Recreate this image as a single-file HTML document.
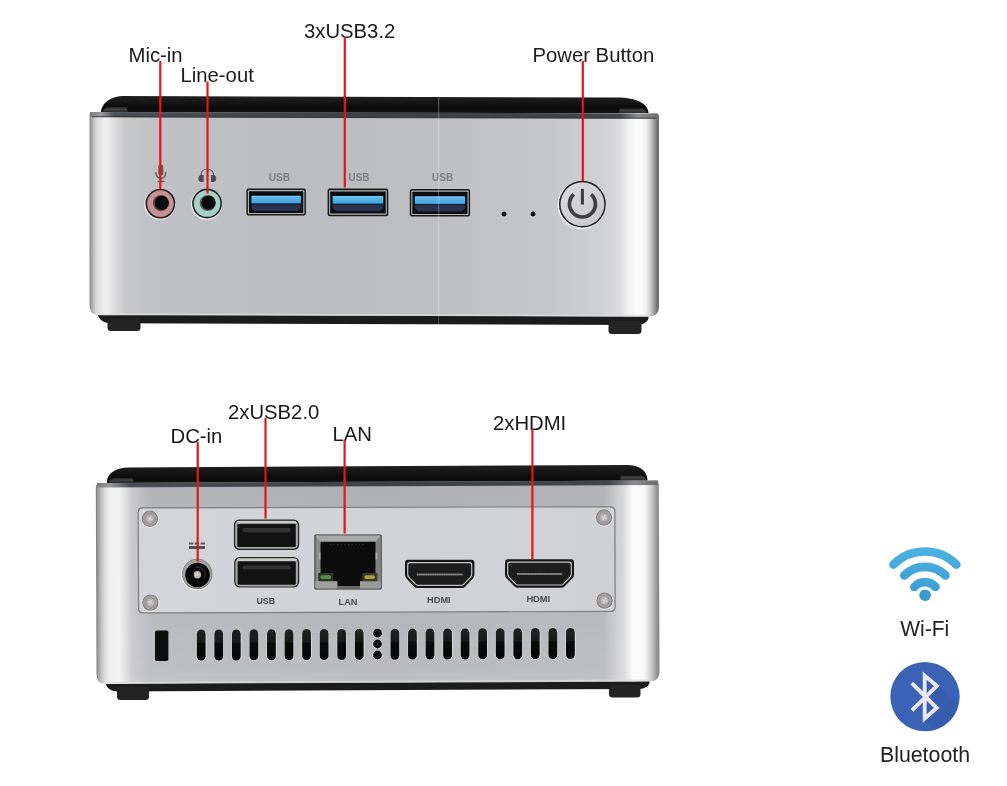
<!DOCTYPE html>
<html><head><meta charset="utf-8">
<style>
html,body{margin:0;padding:0;background:#fff;}
body{width:1007px;height:786px;overflow:hidden;position:relative;font-family:"Liberation Sans",sans-serif;}
svg{position:absolute;left:0;top:0;display:block;will-change:transform;}
</style></head>
<body>
<svg width="1007" height="786" viewBox="0 0 1007 786">
<defs>
  <linearGradient id="silverT" gradientUnits="userSpaceOnUse" x1="89" y1="0" x2="659" y2="0">
    <stop offset="0" stop-color="#7a7a7a"/>
    <stop offset="0.0035" stop-color="#a0a0a0"/>
    <stop offset="0.0123" stop-color="#d8d8d8"/>
    <stop offset="0.029" stop-color="#f2f2f2"/>
    <stop offset="0.042" stop-color="#e0e0e1"/>
    <stop offset="0.063" stop-color="#c9c9cb"/>
    <stop offset="0.107" stop-color="#c1c2c5"/>
    <stop offset="0.37" stop-color="#bcbdc0"/>
    <stop offset="0.63" stop-color="#bfc0c3"/>
    <stop offset="0.8088" stop-color="#c6c7c9"/>
    <stop offset="0.8965" stop-color="#cfd0d2"/>
    <stop offset="0.9298" stop-color="#dadadc"/>
    <stop offset="0.9491" stop-color="#f4f4f4"/>
    <stop offset="0.9596" stop-color="#fcfcfc"/>
    <stop offset="0.9719" stop-color="#fbfbfb"/>
    <stop offset="0.9789" stop-color="#ececec"/>
    <stop offset="0.9860" stop-color="#c6c6c6"/>
    <stop offset="0.9912" stop-color="#a0a0a0"/>
    <stop offset="0.9965" stop-color="#747474"/>
    <stop offset="1.0000" stop-color="#666666"/>
  </linearGradient>
  <linearGradient id="silverB" gradientUnits="userSpaceOnUse" x1="96" y1="0" x2="659.5" y2="0">
    <stop offset="0.0000" stop-color="#7a7a7a"/>
    <stop offset="0.0035" stop-color="#9a9a9a"/>
    <stop offset="0.0089" stop-color="#c0c0c0"/>
    <stop offset="0.0177" stop-color="#e2e2e2"/>
    <stop offset="0.0248" stop-color="#f0f0f0"/>
    <stop offset="0.0408" stop-color="#f3f3f3"/>
    <stop offset="0.0532" stop-color="#e2e2e4"/>
    <stop offset="0.0639" stop-color="#d0d0d2"/>
    <stop offset="0.0958" stop-color="#c5c6ca"/>
    <stop offset="0.5" stop-color="#c0c1c5"/>
    <stop offset="0.9" stop-color="#c4c5c9"/>
    <stop offset="0.937" stop-color="#dcdcde"/>
    <stop offset="0.952" stop-color="#fbfbfb"/>
    <stop offset="0.973" stop-color="#f8f8f8"/>
    <stop offset="0.985" stop-color="#cfcfcf"/>
    <stop offset="0.994" stop-color="#9c9c9c"/>
    <stop offset="1" stop-color="#7e7e7e"/>
  </linearGradient>
  <linearGradient id="shadeB" gradientUnits="userSpaceOnUse" x1="0" y1="483" x2="0" y2="684">
    <stop offset="0" stop-color="#000" stop-opacity="0.09"/>
    <stop offset="0.11" stop-color="#000" stop-opacity="0.08"/>
    <stop offset="0.65" stop-color="#000" stop-opacity="0.05"/>
    <stop offset="0.93" stop-color="#000" stop-opacity="0.03"/>
    <stop offset="1" stop-color="#000" stop-opacity="0.0"/>
  </linearGradient>
  <linearGradient id="bandT" gradientUnits="userSpaceOnUse" x1="89" y1="0" x2="659" y2="0">
    <stop offset="0" stop-color="#7a7a7a"/>
    <stop offset="0.02" stop-color="#9a9a9c"/>
    <stop offset="0.045" stop-color="#4a4e56"/>
    <stop offset="0.5" stop-color="#3b4049"/>
    <stop offset="0.93" stop-color="#41454d"/>
    <stop offset="0.965" stop-color="#8d8e91"/>
    <stop offset="1" stop-color="#6a6a6a"/>
  </linearGradient>
  <linearGradient id="bandB" gradientUnits="userSpaceOnUse" x1="96" y1="0" x2="659" y2="0">
    <stop offset="0" stop-color="#7a7a7a"/>
    <stop offset="0.025" stop-color="#9a9a9c"/>
    <stop offset="0.06" stop-color="#4a4e56"/>
    <stop offset="0.5" stop-color="#3b4049"/>
    <stop offset="0.91" stop-color="#41454d"/>
    <stop offset="0.955" stop-color="#8d8e91"/>
    <stop offset="1" stop-color="#6a6a6a"/>
  </linearGradient>
  <linearGradient id="rub" x1="0" y1="0" x2="0" y2="1">
    <stop offset="0" stop-color="#2a2a2a"/>
    <stop offset="0.5" stop-color="#484848"/>
    <stop offset="1" stop-color="#2c2c2c"/>
  </linearGradient>
  <linearGradient id="shadeMaskG" gradientUnits="userSpaceOnUse" x1="96" y1="0" x2="660" y2="0">
    <stop offset="0" stop-color="#000"/>
    <stop offset="0.04" stop-color="#000"/>
    <stop offset="0.1" stop-color="#fff"/>
    <stop offset="0.9" stop-color="#fff"/>
    <stop offset="0.935" stop-color="#000"/>
    <stop offset="1" stop-color="#000"/>
  </linearGradient>
  <mask id="shadeMask" maskUnits="userSpaceOnUse" x="0" y="0" width="1007" height="786">
    <rect x="0" y="0" width="1007" height="786" fill="url(#shadeMaskG)"/>
  </mask>
  <linearGradient id="vent" x1="0" y1="0" x2="0" y2="1">
    <stop offset="0" stop-color="#202020"/>
    <stop offset="0.4" stop-color="#1a1a1a"/>
    <stop offset="0.45" stop-color="#0a0a0a"/>
    <stop offset="1" stop-color="#070707"/>
  </linearGradient>
  <linearGradient id="lid" x1="0" y1="0" x2="0" y2="1">
    <stop offset="0" stop-color="#222"/>
    <stop offset="0.4" stop-color="#141414"/>
    <stop offset="0.7" stop-color="#0b0b0b"/>
    <stop offset="1" stop-color="#111"/>
  </linearGradient>
  <linearGradient id="usbBlue" x1="0" y1="0" x2="0" y2="1">
    <stop offset="0" stop-color="#86cff4"/>
    <stop offset="0.25" stop-color="#5ab6ea"/>
    <stop offset="0.8" stop-color="#48a8e2"/>
    <stop offset="1" stop-color="#3a92cc"/>
  </linearGradient>
  <linearGradient id="pwr" x1="0" y1="0" x2="1" y2="1">
    <stop offset="0" stop-color="#dcdcde"/>
    <stop offset="1" stop-color="#c8c8ca"/>
  </linearGradient>
  <linearGradient id="plate" x1="0" y1="0" x2="1" y2="0">
    <stop offset="0" stop-color="#d4d5d8"/>
    <stop offset="1" stop-color="#d0d1d4"/>
  </linearGradient>
</defs>

<path d="M101,113 C101,103 111,96 124,96 L618,97.6 C636,97.6 648.5,104 648.5,113 Z" fill="url(#lid)"/>
<path d="M98,314.5 L648.5,316.5 L648.5,318.5 C647,322.5 643,325 636,325 L110,323.2 C104,323.2 98,319 98,314.5 Z" fill="#1c1c1c"/>
<rect x="107.5" y="319" width="33" height="12" rx="3.5" fill="#232323"/>
<rect x="608.5" y="321" width="33" height="13" rx="3.5" fill="#232323"/>
<path d="M89.5,115 Q89.5,112 92.5,112 L656,113.5 Q659,113.5 659,116.5 L659,306.5 Q659,316.5 649,316.5 L99.5,315.2 Q89.5,315.2 89.5,305 Z" fill="url(#silverT)"/>
<path d="M103,112 C103,109 106,107 111,107 L126,107 L128,112 Z" fill="url(#rub)" opacity="0.9"/>
<path d="M620,108.5 L640,108.5 C644,108.5 646.5,110.5 646.5,113 L619,113 Z" fill="url(#rub)" opacity="0.9"/>
<path d="M90,112 L658,113.5 L658,118.5 L90,117 Z" fill="url(#bandT)"/>
<path d="M92,116.3 L656,117.8 L656,118.8 L92,117.3 Z" fill="#2a2c30" opacity="0.8"/>
<path d="M100,313.3 L648,314.8 L648,316.3 L100,314.8 Z" fill="#dcdcdc" opacity="0.8"/>
<circle cx="159.9" cy="204.2" r="15.6" fill="#ececec"/>
<circle cx="160.4" cy="203.6" r="14.9" fill="#231919"/>
<circle cx="160.4" cy="203.6" r="13.3" fill="#c29494"/>
<circle cx="161.00000000000003" cy="203.1" r="8.1" fill="#5a3434" opacity="0.85"/>
<circle cx="161.70000000000002" cy="202.9" r="7.1" fill="#0a0a0a"/>
<circle cx="206.6" cy="204.1" r="15.6" fill="#ececec"/>
<circle cx="207.1" cy="203.5" r="14.9" fill="#18231f"/>
<circle cx="207.1" cy="203.5" r="13.3" fill="#aacfc4"/>
<circle cx="207.70000000000002" cy="203.0" r="8.1" fill="#3a5550" opacity="0.85"/>
<circle cx="208.4" cy="202.8" r="7.1" fill="#0a0a0a"/>
<g fill="none" stroke="#5a5a5a" stroke-width="1.4"><path d="M155.9,172.3 Q155.9,178.2 160.8,178.2 Q165.7,178.2 165.7,172.3"/><line x1="160.8" y1="178.2" x2="160.8" y2="181.2"/><line x1="157.6" y1="181.5" x2="164.6" y2="181.5"/></g>
<rect x="158.3" y="164.4" width="5" height="11.2" rx="2.5" fill="#5a5a5a"/>
<path d="M200.9,177 L200.9,175.6 Q200.9,169.3 207.3,169.3 Q213.7,169.3 213.7,175.6 L213.7,177" fill="none" stroke="#606060" stroke-width="1.1"/>
<path d="M203.6,175 L203.6,182 L201.6,182 Q198.4,182 198.4,178.5 Q198.4,175 201.6,175 Z" fill="#4e4e4e"/>
<path d="M211,175 L211,182 L213,182 Q216.2,182 216.2,178.5 Q216.2,175 213,175 Z" fill="#4e4e4e"/>
<rect x="246.4" y="188.4" width="59.5" height="27.2" rx="2" fill="#1a1a1a"/>
<rect x="247.9" y="190.0" width="56.5" height="24.099999999999998" rx="1.2" fill="#b4b4b4"/>
<rect x="249.0" y="191.20000000000002" width="54.3" height="21.799999999999997" rx="0.6" fill="#0b0c10"/>
<path d="M251.4,203.8 L300.9,203.8 L300.9,207.9 L297.4,211.0 L254.9,211.0 L251.4,207.9 Z" fill="#28344f"/>
<rect x="251.4" y="195.70000000000002" width="49.5" height="8" rx="0.8" fill="url(#usbBlue)"/>
<rect x="251.4" y="203.5" width="49.5" height="1.1" fill="#121826"/>
<rect x="327.6" y="188.6" width="60.7" height="27.6" rx="2" fill="#1a1a1a"/>
<rect x="329.1" y="190.2" width="57.7" height="24.5" rx="1.2" fill="#b4b4b4"/>
<rect x="330.20000000000005" y="191.4" width="55.5" height="22.200000000000003" rx="0.6" fill="#0b0c10"/>
<path d="M332.6,204.0 L383.3,204.0 L383.3,208.1 L379.8,211.2 L336.1,211.2 L332.6,208.1 Z" fill="#28344f"/>
<rect x="332.6" y="195.9" width="50.7" height="8" rx="0.8" fill="url(#usbBlue)"/>
<rect x="332.6" y="203.7" width="50.7" height="1.1" fill="#121826"/>
<rect x="409.8" y="188.9" width="60.3" height="27.7" rx="2" fill="#1a1a1a"/>
<rect x="411.3" y="190.5" width="57.3" height="24.599999999999998" rx="1.2" fill="#b4b4b4"/>
<rect x="412.40000000000003" y="191.70000000000002" width="55.099999999999994" height="22.299999999999997" rx="0.6" fill="#0b0c10"/>
<path d="M414.8,204.3 L465.1,204.3 L465.1,208.4 L461.6,211.5 L418.3,211.5 L414.8,208.4 Z" fill="#28344f"/>
<rect x="414.8" y="196.20000000000002" width="50.3" height="8" rx="0.8" fill="url(#usbBlue)"/>
<rect x="414.8" y="204.0" width="50.3" height="1.1" fill="#121826"/>
<g font-family="Liberation Sans, sans-serif" font-weight="bold" font-size="10.2" fill="#7e7f82" text-anchor="middle"><text x="279.4" y="180.6" textLength="21.4" lengthAdjust="spacingAndGlyphs">USB</text><text x="359" y="180.8" textLength="20.8" lengthAdjust="spacingAndGlyphs">USB</text><text x="442.6" y="180.9" textLength="21" lengthAdjust="spacingAndGlyphs">USB</text></g>
<circle cx="504" cy="214.4" r="2.9" fill="#f4f4f4" opacity="0.8"/><circle cx="533" cy="214.4" r="2.9" fill="#f4f4f4" opacity="0.8"/>
<circle cx="504" cy="213.9" r="2.5" fill="#111"/><circle cx="533" cy="213.9" r="2.5" fill="#111"/>
<circle cx="581.6" cy="205" r="24.2" fill="#f2f2f2"/>
<circle cx="582.4" cy="204.2" r="23.4" fill="#1e1e1e"/>
<circle cx="582.4" cy="204.2" r="21.9" fill="url(#pwr)"/>
<path d="M573.75,194.34 A13,13 0 1 0 591.15,194.34" fill="none" stroke="#404040" stroke-width="3.7"/>
<line x1="582.4" y1="188.9" x2="582.4" y2="204.6" stroke="#404040" stroke-width="3.1"/>
<line x1="438.7" y1="97.6" x2="438.7" y2="112.5" stroke="#8a8a8a" stroke-width="0.9" opacity="0.7"/>
<line x1="438.7" y1="112.5" x2="438.7" y2="117.5" stroke="#aab" stroke-width="0.9" opacity="0.5"/>
<line x1="438.7" y1="117.5" x2="438.7" y2="316" stroke="#ffffff" stroke-width="0.9" opacity="0.3"/>
<line x1="438.7" y1="316" x2="438.7" y2="324" stroke="#777" stroke-width="0.9" opacity="0.6"/>
<path d="M107,484 L107,482 C107,473 116,467.5 129,467.5 L627,465 C640,465 647.5,471 647.5,480.5 L647.5,482 Z" fill="url(#lid)"/>
<path d="M106,683.5 L649.5,681 L649.5,683 C648,687 644,689 637,689 L118,691.5 C112,691.5 106,688 106,683.5 Z" fill="#1c1c1c"/>
<rect x="117" y="687" width="32" height="13" rx="3.5" fill="#232323"/>
<rect x="609" y="685" width="31.5" height="12.5" rx="3.5" fill="#232323"/>
<path d="M95.8,488 Q95.8,483 100.8,483 L654.5,480.5 Q658.8,480.5 658.8,484.8 L659.5,672 Q659.5,681.5 649.5,681.5 L106,684 Q96.5,684 96.5,674 Z" fill="url(#silverB)"/>
<path d="M95.8,488 Q95.8,483 100.8,483 L654.5,480.5 Q658.8,480.5 658.8,484.8 L659.5,672 Q659.5,681.5 649.5,681.5 L106,684 Q96.5,684 96.5,674 Z" fill="url(#shadeB)" mask="url(#shadeMask)"/>
<path d="M109,482.5 C109,479.5 112,478 117,478 L132,478 L134,482.5 Z" fill="url(#rub)" opacity="0.9"/>
<path d="M621,475.5 L640,475.5 C644,475.5 646,477.5 646,480 L620,480 Z" fill="url(#rub)" opacity="0.9"/>
<path d="M97,483 L658,480.5 L658,485 L97,487.5 Z" fill="url(#bandB)"/>
<path d="M106,682 L649,679.5 L649,681 L106,683.5 Z" fill="#dcdcdc" opacity="0.8"/>
<path d="M142.5,507.2 L610.5,506.2 Q615.5,506.2 615.5,511.2 L615.7,607 Q615.7,612 610.7,612 L143,613.6 Q138,613.6 138,608.6 L137.6,512.2 Q137.6,507.2 142.5,507.2 Z" fill="#7e7e7e"/>
<path d="M143,508.4 L610,507.4 Q614.3,507.4 614.3,511.7 L614.5,606.5 Q614.5,610.8 610.2,610.8 L143.5,612.3 Q139.2,612.3 139.2,608 L138.8,512.7 Q138.8,508.4 143,508.4 Z" fill="url(#plate)"/>
<circle cx="150.20000000000002" cy="519.1999999999999" r="8.8" fill="#f0f0f0"/><circle cx="149.9" cy="518.8" r="8.2" fill="#858080"/><circle cx="149.9" cy="518.8" r="7.2" fill="#a29d9d"/><circle cx="149.9" cy="518.8" r="3.8" fill="#bab5b5"/><path d="M147.5,517.5999999999999 L152.3,520.0 M148.70000000000002,521.1999999999999 L151.1,516.4" stroke="#dcd8d8" stroke-width="1.1"/>
<circle cx="150.70000000000002" cy="603.0" r="8.8" fill="#f0f0f0"/><circle cx="150.4" cy="602.6" r="8.2" fill="#858080"/><circle cx="150.4" cy="602.6" r="7.2" fill="#a29d9d"/><circle cx="150.4" cy="602.6" r="3.8" fill="#bab5b5"/><path d="M148.0,601.4 L152.8,603.8000000000001 M149.20000000000002,605.0 L151.6,600.2" stroke="#dcd8d8" stroke-width="1.1"/>
<circle cx="604.3" cy="517.9" r="8.8" fill="#f0f0f0"/><circle cx="604" cy="517.5" r="8.2" fill="#858080"/><circle cx="604" cy="517.5" r="7.2" fill="#a29d9d"/><circle cx="604" cy="517.5" r="3.8" fill="#bab5b5"/><path d="M601.6,516.3 L606.4,518.7 M602.8,519.9 L605.2,515.1" stroke="#dcd8d8" stroke-width="1.1"/>
<circle cx="604.8" cy="601.0" r="8.8" fill="#f0f0f0"/><circle cx="604.5" cy="600.6" r="8.2" fill="#858080"/><circle cx="604.5" cy="600.6" r="7.2" fill="#a29d9d"/><circle cx="604.5" cy="600.6" r="3.8" fill="#bab5b5"/><path d="M602.1,599.4 L606.9,601.8000000000001 M603.3,603.0 L605.7,598.2" stroke="#dcd8d8" stroke-width="1.1"/>
<line x1="189" y1="543.6" x2="205" y2="543.6" stroke="#5a5a5a" stroke-width="2" stroke-dasharray="4.3 1.5"/>
<line x1="189" y1="547.5" x2="205" y2="547.5" stroke="#4a4a4a" stroke-width="2.8"/>
<circle cx="196.8" cy="574.6" r="15.9" fill="#ececec"/>
<circle cx="197.3" cy="573.9" r="15.2" fill="#7c7c7c"/>
<circle cx="197.3" cy="573.9" r="14.4" fill="#a2a2a2"/>
<circle cx="197.5" cy="575" r="12.3" fill="#060606"/>
<path d="M196,567.5 A7.5,7.5 0 0 1 204.5,578" fill="none" stroke="#2c2c2c" stroke-width="1.3"/>
<circle cx="197.4" cy="574.8" r="3.7" fill="#bcb7af"/>
<circle cx="197" cy="574.3" r="1.8" fill="#d8d4cc"/>
<rect x="233.9" y="519.5" width="65.3" height="30.5" rx="5.5" fill="#262626"/>
<rect x="235.20000000000002" y="520.7" width="62.699999999999996" height="28.1" rx="4.5" fill="#a9a9a9"/>
<rect x="236.9" y="521.1" width="59.3" height="2.6" rx="1" fill="#c9c9c9"/>
<rect x="237.3" y="523.8" width="58.5" height="23.3" rx="1.2" fill="#121212"/>
<rect x="242.4" y="528.1" width="48.3" height="4.2" rx="2" fill="#333"/>
<rect x="242.4" y="531.9" width="48.3" height="1" fill="#1c1c1c"/>
<rect x="234.2" y="557.0" width="65.0" height="30.6" rx="5.5" fill="#262626"/>
<rect x="235.5" y="558.2" width="62.4" height="28.200000000000003" rx="4.5" fill="#a9a9a9"/>
<rect x="237.2" y="558.6" width="59.0" height="2.6" rx="1" fill="#c9c9c9"/>
<rect x="237.6" y="561.3" width="58.2" height="23.400000000000002" rx="1.2" fill="#121212"/>
<rect x="242.7" y="565.6" width="48.0" height="4.2" rx="2" fill="#333"/>
<rect x="242.7" y="569.4" width="48.0" height="1" fill="#1c1c1c"/>
<rect x="314.4" y="534.5" width="67.3" height="55" rx="1.5" fill="#2e2e2e"/>
<rect x="315.4" y="535.5" width="65.3" height="53" rx="1" fill="#8c8c8c"/>
<path d="M315.4,535.5 L380.7,535.5 L375.7,541.7 L320.1,541.7 Z" fill="#a9a9a9"/>
<path d="M380.7,535.5 L375.7,541.7 L375.7,582 L380.7,588.5 Z" fill="#818181"/>
<path d="M320.5,541.7 L375.5,541.7 L375.5,581.5 L360,581.5 L360,586.3 L337.3,586.3 L337.3,581.5 L320.5,581.5 Z" fill="#0c0c0c"/>
<path d="M330,544.6 L366,544.6" stroke="#3a3a3a" stroke-width="1" stroke-dasharray="1 2.6"/>
<rect x="318.8" y="552.5" width="1.6" height="7" fill="#b0b0b0"/><rect x="375.6" y="552.5" width="1.6" height="7" fill="#b0b0b0"/>
<rect x="318.3" y="573" width="15" height="8.2" fill="#2a3528"/><rect x="320.5" y="575.3" width="10.5" height="3.8" rx="1.9" fill="#58904a"/>
<rect x="362.4" y="573" width="15" height="8.2" fill="#3a3826"/><rect x="364.5" y="575.3" width="10.5" height="3.8" rx="1.9" fill="#aaa03a"/>
<rect x="315.4" y="581.3" width="21.9" height="7.2" fill="#a0a0a0"/><rect x="360" y="581.3" width="20.7" height="7.2" fill="#9a9a9a"/>
<rect x="337.3" y="586.3" width="22.7" height="2.2" fill="#6a6a6a"/>
<path d="M408.00,559.80 L471.40,559.80 Q474.40,559.80 474.40,562.80 L474.40,574.80 Q474.40,577.00 472.88,578.59 L465.42,586.41 Q463.90,588.00 461.70,588.00 L417.70,588.00 Q415.50,588.00 413.98,586.41 L406.52,578.59 Q405.00,577.00 405.00,574.80 L405.00,562.80 Q405.00,559.80 408.00,559.80 Z" fill="#161616"/>
<path d="M409.50,562.10 L469.90,562.10 Q472.30,562.10 472.30,564.50 L472.30,574.40 Q472.30,576.20 471.06,577.51 L464.34,584.59 Q463.10,585.90 461.30,585.90 L418.10,585.90 Q416.30,585.90 415.06,584.59 L408.34,577.51 Q407.10,576.20 407.10,574.40 L407.10,564.50 Q407.10,562.10 409.50,562.10 Z" fill="#c4c4c4"/>
<path d="M409.90,563.30 L469.50,563.30 Q471.10,563.30 471.10,564.90 L471.10,574.30 Q471.10,575.70 470.14,576.72 L463.56,583.68 Q462.60,584.70 461.20,584.70 L418.20,584.70 Q416.80,584.70 415.84,583.68 L409.26,576.72 Q408.30,575.70 408.30,574.30 L408.30,564.90 Q408.30,563.30 409.90,563.30 Z" fill="#1d1d1d"/>
<rect x="416.5" y="573.4" width="46.400000000000006" height="2" rx="1" fill="#6a6a6a"/>
<line x1="417.0" y1="574.4" x2="462.4" y2="574.4" stroke="#9a9a9a" stroke-width="1" stroke-dasharray="1.1 0.7"/>
<path d="M508.00,559.30 L571.00,559.30 Q574.00,559.30 574.00,562.30 L574.00,574.50 Q574.00,576.70 572.48,578.29 L565.02,586.11 Q563.50,587.70 561.30,587.70 L517.70,587.70 Q515.50,587.70 513.98,586.11 L506.52,578.29 Q505.00,576.70 505.00,574.50 L505.00,562.30 Q505.00,559.30 508.00,559.30 Z" fill="#161616"/>
<path d="M509.50,561.60 L569.50,561.60 Q571.90,561.60 571.90,564.00 L571.90,574.10 Q571.90,575.90 570.66,577.21 L563.94,584.29 Q562.70,585.60 560.90,585.60 L518.10,585.60 Q516.30,585.60 515.06,584.29 L508.34,577.21 Q507.10,575.90 507.10,574.10 L507.10,564.00 Q507.10,561.60 509.50,561.60 Z" fill="#c4c4c4"/>
<path d="M509.90,562.80 L569.10,562.80 Q570.70,562.80 570.70,564.40 L570.70,574.00 Q570.70,575.40 569.74,576.42 L563.16,583.38 Q562.20,584.40 560.80,584.40 L518.20,584.40 Q516.80,584.40 515.84,583.38 L509.26,576.42 Q508.30,575.40 508.30,574.00 L508.30,564.40 Q508.30,562.80 509.90,562.80 Z" fill="#1d1d1d"/>
<rect x="516.5" y="572.9" width="46.0" height="2" rx="1" fill="#6a6a6a"/>
<line x1="517.0" y1="573.9" x2="562.0" y2="573.9" stroke="#9a9a9a" stroke-width="1" stroke-dasharray="1.1 0.7"/>
<g font-family="Liberation Sans, sans-serif" font-weight="bold" font-size="9.4" fill="#4c4c4c" text-anchor="middle"><text x="265.7" y="603.6" textLength="18.6" lengthAdjust="spacingAndGlyphs">USB</text><text x="348" y="604.9" textLength="18.8" lengthAdjust="spacingAndGlyphs">LAN</text><text x="438.9" y="602.6" textLength="23.6" lengthAdjust="spacingAndGlyphs">HDMI</text><text x="538.3" y="601.8" textLength="23.8" lengthAdjust="spacingAndGlyphs">HDMI</text></g>
<rect x="155" y="630.5" width="13.4" height="30.5" rx="1.8" fill="#0e0e0e"/>
<rect x="196.30" y="629.57" width="10" height="31.6" rx="5" fill="#f4f4f4" opacity="0.75"/>
<rect x="196.80" y="629.57" width="8.8" height="31" rx="4.3" fill="url(#vent)"/>
<rect x="213.86" y="629.49" width="10" height="31.6" rx="5" fill="#f4f4f4" opacity="0.75"/>
<rect x="214.36" y="629.49" width="8.8" height="31" rx="4.3" fill="url(#vent)"/>
<rect x="231.42" y="629.41" width="10" height="31.6" rx="5" fill="#f4f4f4" opacity="0.75"/>
<rect x="231.92" y="629.41" width="8.8" height="31" rx="4.3" fill="url(#vent)"/>
<rect x="248.98" y="629.33" width="10" height="31.6" rx="5" fill="#f4f4f4" opacity="0.75"/>
<rect x="249.48" y="629.33" width="8.8" height="31" rx="4.3" fill="url(#vent)"/>
<rect x="266.54" y="629.25" width="10" height="31.6" rx="5" fill="#f4f4f4" opacity="0.75"/>
<rect x="267.04" y="629.25" width="8.8" height="31" rx="4.3" fill="url(#vent)"/>
<rect x="284.10" y="629.18" width="10" height="31.6" rx="5" fill="#f4f4f4" opacity="0.75"/>
<rect x="284.60" y="629.18" width="8.8" height="31" rx="4.3" fill="url(#vent)"/>
<rect x="301.66" y="629.10" width="10" height="31.6" rx="5" fill="#f4f4f4" opacity="0.75"/>
<rect x="302.16" y="629.10" width="8.8" height="31" rx="4.3" fill="url(#vent)"/>
<rect x="319.22" y="629.02" width="10" height="31.6" rx="5" fill="#f4f4f4" opacity="0.75"/>
<rect x="319.72" y="629.02" width="8.8" height="31" rx="4.3" fill="url(#vent)"/>
<rect x="336.78" y="628.94" width="10" height="31.6" rx="5" fill="#f4f4f4" opacity="0.75"/>
<rect x="337.28" y="628.94" width="8.8" height="31" rx="4.3" fill="url(#vent)"/>
<rect x="354.34" y="628.86" width="10" height="31.6" rx="5" fill="#f4f4f4" opacity="0.75"/>
<rect x="354.84" y="628.86" width="8.8" height="31" rx="4.3" fill="url(#vent)"/>
<rect x="390.00" y="628.70" width="10" height="31.6" rx="5" fill="#f4f4f4" opacity="0.75"/>
<rect x="390.50" y="628.70" width="8.8" height="31" rx="4.3" fill="url(#vent)"/>
<rect x="407.55" y="628.62" width="10" height="31.6" rx="5" fill="#f4f4f4" opacity="0.75"/>
<rect x="408.05" y="628.62" width="8.8" height="31" rx="4.3" fill="url(#vent)"/>
<rect x="425.10" y="628.55" width="10" height="31.6" rx="5" fill="#f4f4f4" opacity="0.75"/>
<rect x="425.60" y="628.55" width="8.8" height="31" rx="4.3" fill="url(#vent)"/>
<rect x="442.65" y="628.47" width="10" height="31.6" rx="5" fill="#f4f4f4" opacity="0.75"/>
<rect x="443.15" y="628.47" width="8.8" height="31" rx="4.3" fill="url(#vent)"/>
<rect x="460.20" y="628.39" width="10" height="31.6" rx="5" fill="#f4f4f4" opacity="0.75"/>
<rect x="460.70" y="628.39" width="8.8" height="31" rx="4.3" fill="url(#vent)"/>
<rect x="477.75" y="628.31" width="10" height="31.6" rx="5" fill="#f4f4f4" opacity="0.75"/>
<rect x="478.25" y="628.31" width="8.8" height="31" rx="4.3" fill="url(#vent)"/>
<rect x="495.30" y="628.23" width="10" height="31.6" rx="5" fill="#f4f4f4" opacity="0.75"/>
<rect x="495.80" y="628.23" width="8.8" height="31" rx="4.3" fill="url(#vent)"/>
<rect x="512.85" y="628.15" width="10" height="31.6" rx="5" fill="#f4f4f4" opacity="0.75"/>
<rect x="513.35" y="628.15" width="8.8" height="31" rx="4.3" fill="url(#vent)"/>
<rect x="530.40" y="628.08" width="10" height="31.6" rx="5" fill="#f4f4f4" opacity="0.75"/>
<rect x="530.90" y="628.08" width="8.8" height="31" rx="4.3" fill="url(#vent)"/>
<rect x="547.95" y="628.00" width="10" height="31.6" rx="5" fill="#f4f4f4" opacity="0.75"/>
<rect x="548.45" y="628.00" width="8.8" height="31" rx="4.3" fill="url(#vent)"/>
<rect x="565.50" y="627.92" width="10" height="31.6" rx="5" fill="#f4f4f4" opacity="0.75"/>
<rect x="566.00" y="627.92" width="8.8" height="31" rx="4.3" fill="url(#vent)"/>
<circle cx="377.3" cy="633.5" r="4.8" fill="#f4f4f4" opacity="0.7"/><circle cx="377.5" cy="633.2" r="4.4" fill="#0d0d0d"/>
<circle cx="377.3" cy="644.3" r="4.8" fill="#f4f4f4" opacity="0.7"/><circle cx="377.5" cy="644.0" r="4.4" fill="#0d0d0d"/>
<circle cx="377.3" cy="655.3" r="4.8" fill="#f4f4f4" opacity="0.7"/><circle cx="377.5" cy="655.0" r="4.4" fill="#0d0d0d"/>
<g font-family="Liberation Sans, sans-serif" font-size="20.3" fill="#1a1a1a">
  <text x="128.5" y="61.8">Mic-in</text>
  <text x="180.5" y="82.2">Line-out</text>
  <text x="304" y="37.8">3xUSB3.2</text>
  <text x="532.5" y="61.8">Power Button</text>
  <text x="228" y="418.8">2xUSB2.0</text>
  <text x="170.5" y="443.1">DC-in</text>
  <text x="332.5" y="440.6">LAN</text>
  <text x="493" y="429.5">2xHDMI</text>
</g>
<g stroke="#e8141c" stroke-width="2.2">
  <line x1="160.3" y1="61" x2="160.3" y2="189.5"/>
  <line x1="207.5" y1="81.5" x2="207.5" y2="193.5"/>
  <line x1="344.8" y1="37" x2="344.8" y2="187.5"/>
  <line x1="582.8" y1="61" x2="582.8" y2="181"/>
  <line x1="197.7" y1="442" x2="197.7" y2="561.5"/>
  <line x1="265.5" y1="418" x2="265.5" y2="518.5"/>
  <line x1="344.6" y1="440" x2="344.6" y2="533.5"/>
  <line x1="532.4" y1="429" x2="532.4" y2="559.5"/>
</g>

<defs><linearGradient id="wifiG" x1="0" y1="0" x2="0" y2="1" gradientUnits="userSpaceOnUse" gradientTransform="translate(0,545) scale(1,56)"><stop offset="0" stop-color="#4db2e2"/><stop offset="1" stop-color="#3a9bd1"/></linearGradient></defs>
<g fill="none" stroke="url(#wifiG)" stroke-width="8.7" stroke-linecap="round">
  <path d="M893.43,564.53 A44.5,44.5 0 0 1 956.37,564.53"/>
  <path d="M904.32,575.42 A29.1,29.1 0 0 1 945.48,575.42"/>
  <path d="M914.4,586.9 A14,14 0 0 1 935.4,586.9"/>
</g>
<circle cx="925.1" cy="595.2" r="5.8" fill="#3a9bd1"/>
<text x="900.2" y="636.1" font-family="Liberation Sans, sans-serif" font-size="21.3" fill="#222" textLength="49" lengthAdjust="spacingAndGlyphs">Wi-Fi</text>
<circle cx="925" cy="696.6" r="34.7" fill="#3b63b5"/>
<clipPath id="btc"><circle cx="925" cy="696.6" r="34.6"/></clipPath>
<path d="M924.7,673 L939.3,686 L985,731.7 L985,782 L924.7,721.7 Z" fill="#2d52a0" opacity="0.35" clip-path="url(#btc)"/>
<path d="M911.8,683.2 L936.8,708 L924.7,718.4 L924.7,675.6 L936.8,685.9 L912,710.3" fill="none" stroke="#e9e9ec" stroke-width="3.9" stroke-linejoin="miter" stroke-miterlimit="4"/>
<text x="880" y="762.2" font-family="Liberation Sans, sans-serif" font-size="21.3" fill="#222" textLength="90" lengthAdjust="spacingAndGlyphs">Bluetooth</text>

</svg>
</body></html>
